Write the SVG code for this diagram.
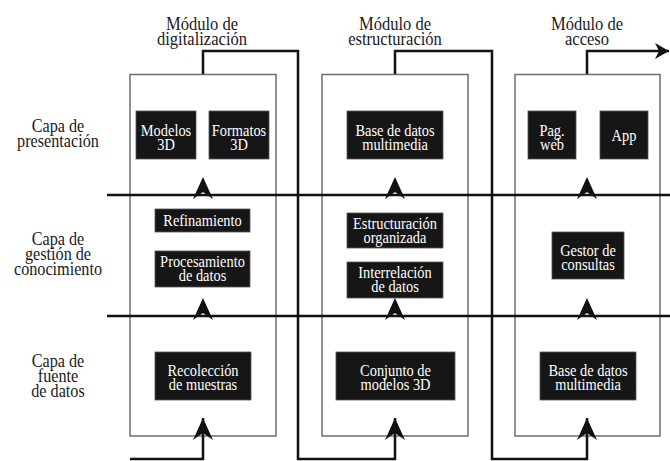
<svg xmlns="http://www.w3.org/2000/svg" width="670" height="461" viewBox="0 0 670 461">
<style>
.bg{fill:#ffffff}
.module{fill:none;stroke:#6e6e6e;stroke-width:1.5}
.node rect{fill:#161616;stroke:#555;stroke-width:0.8}
.node text{fill:#ffffff;font-size:16px;text-anchor:middle}
.lbl{fill:#1a1a1a;font-size:18px;text-anchor:middle}
.conn{fill:none;stroke:#111;stroke-width:2.5}
.ahead{fill:#111}
</style>
<defs>
<marker id="arrow" markerUnits="userSpaceOnUse" markerWidth="26" markerHeight="26" refX="0" refY="0" viewBox="-24 -12 26 24" orient="auto">
<path d="M0,0 L-22,-10 L-15,0 L-22,10 Z" fill="#111"/>
</marker>
<marker id="arrowR" markerUnits="userSpaceOnUse" markerWidth="20" markerHeight="20" refX="0" refY="0" viewBox="-16 -10 18 20" orient="auto">
<path d="M0,0 L-14,-8 L-10,0 L-14,8 Z" fill="#111"/>
</marker>
<path id="up" d="M0,0 L-10,22 L0,15 L10,22 Z"/>
</defs>
<rect class="bg" x="0" y="0" width="670" height="461"/>

<g id="labels" font-family="Liberation Serif">
<text class="lbl" transform="matrix(0.92 0 0 1 202 30)">Módulo de</text>
<text class="lbl" transform="matrix(0.92 0 0 1 202 45)">digitalización</text>
<text class="lbl" transform="matrix(0.92 0 0 1 395 30)">Módulo de</text>
<text class="lbl" transform="matrix(0.92 0 0 1 395 45)">estructuración</text>
<text class="lbl" transform="matrix(0.92 0 0 1 587 30)">Módulo de</text>
<text class="lbl" transform="matrix(0.92 0 0 1 587 45)">acceso</text>
<text class="lbl" transform="matrix(0.9 0 0 1 58 132)">Capa de</text>
<text class="lbl" transform="matrix(0.9 0 0 1 58 147)">presentación</text>
<text class="lbl" transform="matrix(0.9 0 0 1 58 245)">Capa de</text>
<text class="lbl" transform="matrix(0.9 0 0 1 58 260)">gestión de</text>
<text class="lbl" transform="matrix(0.9 0 0 1 58 275)">conocimiento</text>
<text class="lbl" transform="matrix(0.9 0 0 1 58 367)">Capa de</text>
<text class="lbl" transform="matrix(0.9 0 0 1 58 382)">fuente</text>
<text class="lbl" transform="matrix(0.9 0 0 1 58 397)">de datos</text>
</g>

<g id="modules">
<rect id="mod-digitalizacion" class="module" x="130" y="74.5" width="146" height="361.5"/>
<rect id="mod-estructuracion" class="module" x="322" y="74.5" width="146" height="361.5"/>
<rect id="mod-acceso" class="module" x="515" y="74.5" width="145" height="361.5"/>
</g>

<g id="connectors">
<line class="conn" x1="107" y1="195" x2="670" y2="195"/>
<line class="conn" x1="107" y1="316" x2="670" y2="316"/>
<path class="conn" d="M130,459 H203 V418" marker-end="url(#arrow)"/>
<path class="conn" d="M203,74 V51 H298 V459 H395 V418" marker-end="url(#arrow)"/>
<path class="conn" d="M395,74 V51 H492 V459 H587 V418" marker-end="url(#arrow)"/>
<path class="conn" d="M587,74 V51 H669" marker-end="url(#arrowR)"/>
<use href="#up" class="ahead" x="203" y="177"/>
<use href="#up" class="ahead" x="395" y="177"/>
<use href="#up" class="ahead" x="587" y="177"/>
<use href="#up" class="ahead" x="203" y="298"/>
<use href="#up" class="ahead" x="395" y="298"/>
<use href="#up" class="ahead" x="587" y="298"/>
</g>

<g id="nodes" font-family="'Liberation Serif', serif">
<g id="n-modelos3d" class="node">
<rect x="136" y="111" width="60" height="48"/>
<text transform="matrix(0.9 0 0 1 166 135.5)"><tspan x="0" y="0">Modelos</tspan><tspan x="0" y="14">3D</tspan></text>
</g>
<g id="n-formatos3d" class="node">
<rect x="209" y="111" width="60" height="48"/>
<text transform="matrix(0.9 0 0 1 239 135.5)"><tspan x="0" y="0">Formatos</tspan><tspan x="0" y="14">3D</tspan></text>
</g>
<g id="n-refinamiento" class="node">
<rect x="155" y="209" width="95" height="23"/>
<text transform="matrix(0.9 0 0 1 202.5 226)">Refinamiento</text>
</g>
<g id="n-procesamiento" class="node">
<rect x="155" y="251" width="95" height="36"/>
<text transform="matrix(0.9 0 0 1 202.5 267)"><tspan x="0" y="0">Procesamiento</tspan><tspan x="0" y="14">de datos</tspan></text>
</g>
<g id="n-recoleccion" class="node">
<rect x="155" y="352" width="96" height="48"/>
<text transform="matrix(0.9 0 0 1 203 375.5)"><tspan x="0" y="0">Recolección</tspan><tspan x="0" y="14">de muestras</tspan></text>
</g>

<g id="n-bd-multimedia-1" class="node">
<rect x="347" y="111" width="96" height="48"/>
<text transform="matrix(0.9 0 0 1 395 135.5)"><tspan x="0" y="0">Base de datos</tspan><tspan x="0" y="14">multimedia</tspan></text>
</g>
<g id="n-estructuracion" class="node">
<rect x="347" y="213" width="96" height="35"/>
<text transform="matrix(0.9 0 0 1 395 229)"><tspan x="0" y="0">Estructuración</tspan><tspan x="0" y="14">organizada</tspan></text>
</g>
<g id="n-interrelacion" class="node">
<rect x="347" y="262" width="96" height="36"/>
<text transform="matrix(0.9 0 0 1 395 278)"><tspan x="0" y="0">Interrelación</tspan><tspan x="0" y="14">de datos</tspan></text>
</g>
<g id="n-conjunto" class="node">
<rect x="336" y="352" width="119" height="48"/>
<text transform="matrix(0.9 0 0 1 395.5 375.5)"><tspan x="0" y="0">Conjunto de</tspan><tspan x="0" y="14">modelos 3D</tspan></text>
</g>

<g id="n-pagweb" class="node">
<rect x="528" y="111" width="48" height="48"/>
<text transform="matrix(0.9 0 0 1 552 135.5)"><tspan x="0" y="0">Pag.</tspan><tspan x="0" y="14">web</tspan></text>
</g>
<g id="n-app" class="node">
<rect x="600" y="111" width="48" height="48"/>
<text transform="matrix(0.9 0 0 1 624 140.5)">App</text>
</g>
<g id="n-gestor" class="node">
<rect x="552" y="232" width="72" height="47"/>
<text transform="matrix(0.9 0 0 1 588 255.5)"><tspan x="0" y="0">Gestor de</tspan><tspan x="0" y="14">consultas</tspan></text>
</g>
<g id="n-bd-multimedia-2" class="node">
<rect x="540" y="352" width="96" height="48"/>
<text transform="matrix(0.9 0 0 1 588 375.5)"><tspan x="0" y="0">Base de datos</tspan><tspan x="0" y="14">multimedia</tspan></text>
</g>
</g>
</svg>
